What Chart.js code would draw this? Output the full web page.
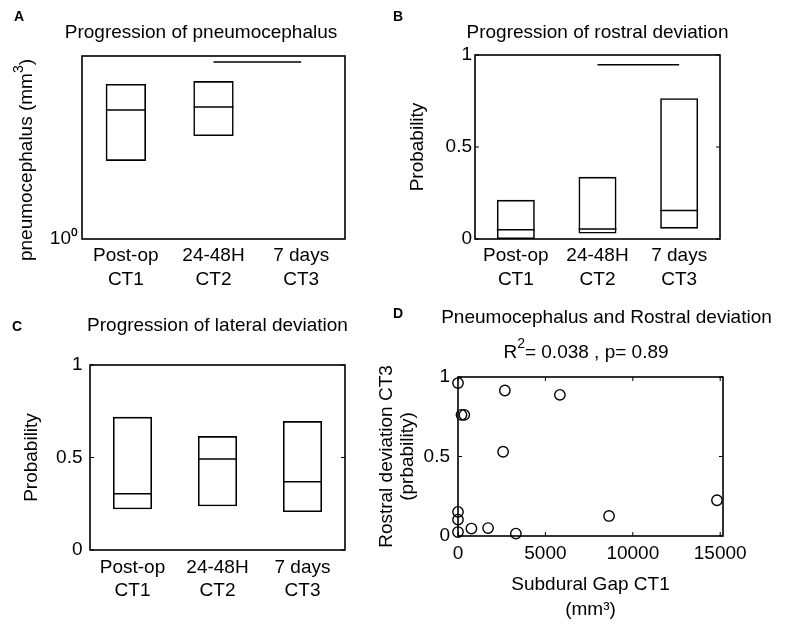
<!DOCTYPE html>
<html>
<head>
<meta charset="utf-8">
<script src="https://cdn.jsdelivr.net/npm/chart.js@4.4.1/dist/chart.umd.min.js"></script>
<style>
  body { margin: 0; background: #fff; }
  #wrap { position: relative; width: 785px; height: 632px; }
  canvas { position: absolute; left: 0; top: 0; }
</style>
</head>
<body>
<div id="wrap">
  <canvas id="chartA" width="785" height="632"></canvas>
  <canvas id="chartB" width="785" height="632"></canvas>
  <canvas id="chartC" width="785" height="632"></canvas>
  <canvas id="chartD" width="785" height="632"></canvas>
</div>
<script>
// categories
const phases = [['Post-op', 'CT1'], ['24-48H', 'CT2'], ['7 days', 'CT3']];

// A - pneumocephalus volume (mm3), log axis
const pneumoLow = [51, 178, null];
const pneumoMedian = [660, 767, null];
const pneumoHigh = [2450, 2830, null];
const pneumoSignif = [null, 7400, 7400];

// B - rostral deviation (probability)
const rostralLow = [0, 0.030, 0.056];
const rostralMedian = [0.050, 0.054, 0.155];
const rostralHigh = [0.213, 0.338, 0.765];
const rostralSignif = [null, 0.947, 0.947];

// C - lateral deviation (probability)
const lateralLow = [0.220, 0.236, 0.205];
const lateralMedian = [0.304, 0.492, 0.369];
const lateralHigh = [0.720, 0.616, 0.697];

// D - subdural gap CT1 vs rostral deviation CT3
const gapCT1 = [0, 2680, 5830, 200, 360, 2580, 0, 0, 0, 768, 1720, 3310, 8640, 14816];
const rostralCT3 = [0.962, 0.915, 0.888, 0.762, 0.762, 0.530, 0.152, 0.103, 0.025, 0.047, 0.050, 0.015, 0.126, 0.225];

// tick labels
const probTicks = [0, 0.5, 1];
const gapTicks = [0, 5000, 10000, 15000];

const FAMILY = '"Liberation Sans", Arial, Helvetica, sans-serif';
const tickFont = { family: FAMILY, size: 19, lineHeight: 1.25 };
const LW = 1.6;

function ranges(lo, hi) {
  return lo.map((v, i) => (v == null ? null : [v, hi[i]]));
}

// box around the axes plus small inward ticks (MATLAB style)
const frame = {
  id: 'frame',
  beforeDatasetsDraw(chart) {
    const { ctx, chartArea: a, scales } = chart;
    ctx.save();
    ctx.strokeStyle = '#000';
    ctx.lineWidth = LW;
    ctx.strokeRect(a.left, a.top, a.right - a.left, a.bottom - a.top);
    ctx.lineWidth = 1;
    ctx.beginPath();
    if (scales.y.type === 'linear') {
      scales.y.ticks.forEach(t => {
        const py = scales.y.getPixelForValue(t.value);
        ctx.moveTo(a.left, py); ctx.lineTo(a.left + 4, py);
        ctx.moveTo(a.right, py); ctx.lineTo(a.right - 4, py);
      });
    }
    if (scales.x.type === 'linear') {
      scales.x.ticks.forEach(t => {
        const px = scales.x.getPixelForValue(t.value);
        ctx.moveTo(px, a.bottom); ctx.lineTo(px, a.bottom - 4);
        ctx.moveTo(px, a.top); ctx.lineTo(px, a.top + 4);
      });
    }
    ctx.stroke();
    ctx.restore();
  }
};

// titles and panel letters; parts marked sup are drawn smaller and raised
function textPlugin(id, items) {
  return {
    id: id,
    afterDraw(chart) {
      const ctx = chart.ctx;
      items.forEach(t => {
        const font = t.font || ('19px ' + FAMILY);
        const supFont = '14px ' + FAMILY;
        const parts = t.parts || [{ text: t.text }];
        ctx.save();
        ctx.fillStyle = '#000';
        ctx.textBaseline = 'middle';
        ctx.textAlign = 'left';
        ctx.translate(t.x, t.y);
        if (t.rotate) ctx.rotate(t.rotate);
        let total = 0;
        parts.forEach(p => { ctx.font = p.sup ? supFont : font; total += ctx.measureText(p.text).width; });
        let x = t.align === 'left' ? 0 : -total / 2;
        parts.forEach(p => {
          ctx.font = p.sup ? supFont : font;
          ctx.fillText(p.text, x, p.sup ? -8 : 0);
          x += ctx.measureText(p.text).width;
        });
        ctx.restore();
      });
    }
  };
}

const letterFont = 'bold 14px ' + FAMILY;

function baseOptions(padding) {
  return {
    responsive: false,
    animation: false,
    events: [],
    layout: { padding: padding },
    plugins: { legend: { display: false }, tooltip: { enabled: false } }
  };
}

function categoryX(pad, height) {
  return {
    grid: { display: false, drawTicks: false },
    border: { display: false },
    ticks: { font: tickFont, color: '#000', padding: pad, maxRotation: 0, autoSkip: false },
    afterFit: s => { s.height = height; }
  };
}

function probY(width, pad, titlePad) {
  return {
    min: 0, max: 1,
    grid: { display: false, drawTicks: false },
    border: { display: false },
    ticks: { font: tickFont, color: '#000', padding: pad, callback: v => String(v) },
    afterBuildTicks: s => { s.ticks = probTicks.map(v => ({ value: v })); },
    title: { display: true, text: 'Probability', color: '#000',
             font: { family: FAMILY, size: 19, lineHeight: 1.2 }, padding: { top: titlePad, bottom: 0 } },
    afterFit: s => { s.width = width; }
  };
}

function boxDatasets(lo, med, hi, pct, half) {
  return [
    { type: 'bar', data: ranges(lo, hi), backgroundColor: 'rgba(0,0,0,0)', borderColor: '#000',
      borderWidth: LW, borderSkipped: false, barPercentage: pct, categoryPercentage: 1 },
    { type: 'line', data: med, showLine: false, pointStyle: 'line', pointRadius: half,
      pointBorderWidth: LW, pointBorderColor: '#000', pointBackgroundColor: '#000' }
  ];
}

function signifDataset(values) {
  return { type: 'line', data: values, borderColor: '#000', borderWidth: LW, pointRadius: 0, fill: false };
}

// Panel A
const optA = baseOptions({ left: 22, top: 56, right: 440, bottom: 333 });
optA.scales = {
  x: categoryX(5, 60),
  y: {
    type: 'logarithmic', min: 1, max: 10000,
    grid: { display: false, drawTicks: false },
    border: { display: false },
    ticks: { font: tickFont, color: '#000', padding: 4, callback: v => (v === 1 ? '10\u2070' : '') },
    afterBuildTicks: s => { s.ticks = [{ value: 1 }]; },
    afterFit: s => { s.width = 60; }
  }
};
new Chart(document.getElementById('chartA'), {
  type: 'bar',
  data: { labels: phases, datasets: [...boxDatasets(pneumoLow, pneumoMedian, pneumoHigh, 0.46, 20), signifDataset(pneumoSignif)] },
  options: optA,
  plugins: [frame, textPlugin('textA', [
    { text: 'A', x: 14, y: 17.5, align: 'left', font: letterFont },
    { text: 'Progression of pneumocephalus', x: 201, y: 33 },
    { parts: [{ text: 'pneumocephalus (mm' }, { text: '3', sup: true }, { text: ')' }], x: 27, y: 160, rotate: -Math.PI / 2 }
  ])]
});

// Panel B
const optB = baseOptions({ left: 405, top: 55, right: 65, bottom: 333 });
optB.scales = { x: categoryX(5, 60), y: probY(70, 3, 1) };
new Chart(document.getElementById('chartB'), {
  type: 'bar',
  data: { labels: phases, datasets: [...boxDatasets(rostralLow, rostralMedian, rostralHigh, 0.465, 19), signifDataset(rostralSignif)] },
  options: optB,
  plugins: [frame, textPlugin('textB', [
    { text: 'B', x: 393, y: 16.7, align: 'left', font: letterFont },
    { text: 'Progression of rostral deviation', x: 597.5, y: 33 }
  ])]
});

// Panel C
const optC = baseOptions({ left: 20, top: 365, right: 440, bottom: 22 });
optC.scales = { x: categoryX(5.5, 60), y: probY(70, 7.5, 0) };
new Chart(document.getElementById('chartC'), {
  type: 'bar',
  data: { labels: phases, datasets: boxDatasets(lateralLow, lateralMedian, lateralHigh, 0.46, 19.5) },
  options: optC,
  plugins: [frame, textPlugin('textC', [
    { text: 'C', x: 12, y: 326.7, align: 'left', font: letterFont },
    { text: 'Progression of lateral deviation', x: 217.5, y: 326 }
  ])]
});

// Panel D
const optD = baseOptions({ left: 370, top: 377, right: 62, bottom: 10 });
optD.scales = {
  x: {
    type: 'linear', min: 0, max: 15160,
    grid: { display: false, drawTicks: false },
    border: { display: false },
    ticks: { font: tickFont, color: '#000', padding: 6, maxRotation: 0, callback: v => String(v) },
    afterBuildTicks: s => { s.ticks = gapTicks.map(v => ({ value: v })); },
    title: { display: true, text: ['Subdural Gap CT1', '(mm\u00b3)'], color: '#000',
             font: { family: FAMILY, size: 19, lineHeight: 1.29 }, padding: { top: 0, bottom: 0 } },
    afterFit: s => { s.height = 86; }
  },
  y: {
    min: 0, max: 1,
    grid: { display: false, drawTicks: false },
    border: { display: false },
    ticks: { font: tickFont, color: '#000', padding: 8, callback: v => String(v) },
    afterBuildTicks: s => { s.ticks = probTicks.map(v => ({ value: v })); },
    title: { display: true, text: ['Rostral deviation CT3', '(prbability)'], color: '#000',
             font: { family: FAMILY, size: 19, lineHeight: 1.08 }, padding: { top: 6.7, bottom: 0 } },
    afterFit: s => { s.width = 88; }
  }
};
new Chart(document.getElementById('chartD'), {
  type: 'scatter',
  data: {
    datasets: [{
      data: gapCT1.map((g, i) => ({ x: g, y: rostralCT3[i] })),
      pointStyle: 'circle', pointRadius: 5.2, pointBorderWidth: 1.4,
      pointBorderColor: '#000', pointBackgroundColor: 'rgba(0,0,0,0)', clip: false
    }]
  },
  options: optD,
  plugins: [frame, textPlugin('textD', [
    { text: 'D', x: 393, y: 314, align: 'left', font: letterFont },
    { text: 'Pneumocephalus and Rostral deviation', x: 606.5, y: 317.5 },
    { parts: [{ text: 'R' }, { text: '2', sup: true }, { text: '= 0.038 , p= 0.89' }], x: 586, y: 352.5 }
  ])]
});
</script>
</body>
</html>
